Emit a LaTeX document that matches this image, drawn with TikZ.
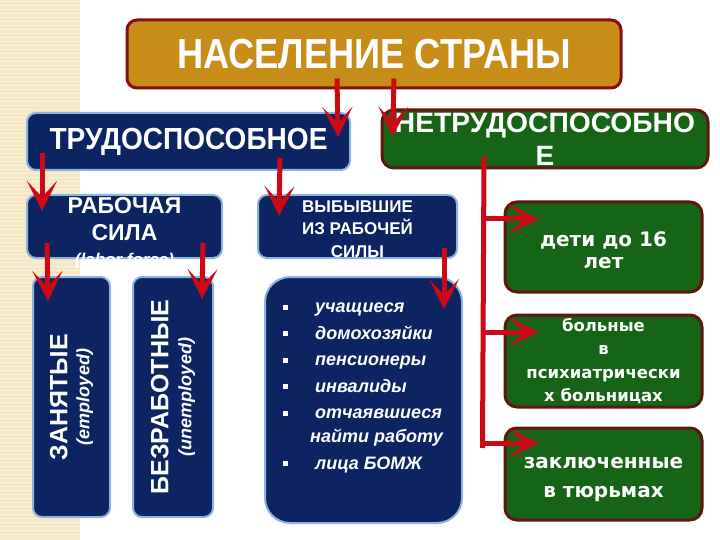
\documentclass[tikz,border=0pt]{standalone}
\usepackage{fontspec}
\setmainfont{Liberation Sans}
\newfontfamily\widesans{DejaVu Sans}
\usetikzlibrary{arrows.meta,calc}

\definecolor{navy}{RGB}{12,36,98}
\definecolor{navyedge}{RGB}{140,180,225}
\definecolor{leafgreen}{RGB}{22,100,22}
\definecolor{greenedge}{RGB}{95,22,15}
\definecolor{gold}{RGB}{200,140,25}
\definecolor{goldedge}{RGB}{135,15,15}
\definecolor{arrowred}{RGB}{205,10,20}
\definecolor{sand}{RGB}{245,230,196}

\newcommand{\fsz}[2]{\fontsize{#1}{#2}\selectfont}
\newcommand{\bul}{{\upshape\rule[3pt]{5pt}{5pt}}}

\tikzset{
  navybox/.style={draw=navyedge, line width=2pt, fill=navy, rounded corners=9pt,
    text=white, inner sep=0pt, align=center},
  greenbox/.style={draw=greenedge, line width=3pt, fill=leafgreen, rounded corners=12pt,
    text=white, inner sep=0pt, align=center},
  redarrow/.style={draw=arrowred, line width=5pt,
    -{Stealth[length=30pt,width=30pt,inset=16pt]}},
  redline/.style={draw=arrowred, line width=5pt},
}

\begin{document}
\begin{tikzpicture}[x=1pt,y=-1pt]
\useasboundingbox (0,0) rectangle (720,540);
% sand strip
\fill[sand] (0,0) rectangle (80,540);
\foreach \s in {2,6,...,538}
  \draw[white, opacity=0.45, line width=1pt] (0,\s) -- (80,\s);

% top
\node[draw=goldedge, line width=3pt, fill=gold, rounded corners=10pt, inner sep=0pt,
  minimum width=494pt, minimum height=68pt, text=white] (title) at (374,54)
  {\resizebox{394pt}{\height}{\bfseries\fsz{42}{42}НАСЕЛЕНИЕ СТРАНЫ}};

% second row
\node[navybox, minimum width=323pt, minimum height=57pt] (trud) at (188.5,141.5)
  {\resizebox{278pt}{\height}{\bfseries\fsz{30.5}{30}ТРУДОСПОСОБНОЕ}};
\node[greenbox, minimum width=326pt, minimum height=58pt, font=\bfseries\fsz{28}{33}] (netrud) at (545,139)
  {\resizebox{300pt}{\height}{НЕТРУДОСПОСОБНО}\\Е};

% labour force and the rest
\node[navybox, minimum width=195pt, minimum height=63pt, text depth=16pt,
  font=\bfseries\fsz{23}{27}] (rab) at (124.5,226.5) {РАБОЧАЯ\\СИЛА};
\node[text=white, inner sep=0pt, font=\bfseries\itshape\fsz{17}{17}] (laborlbl) at (124.5,261)
  {(labor force)};
\node[navybox, minimum width=199pt, minimum height=63pt, text height=61pt, text depth=0pt,
  font=\bfseries\fsz{17}{22.5}] (vyb) at (357.5,226.5) {ВЫБЫВШИЕ\\ИЗ РАБОЧЕЙ\\СИЛЫ};

\node[navybox, rotate=90, minimum width=240pt, minimum height=77pt, font=\bfseries\fsz{25}{26}] (zan)
  at (71.5,397) {ЗАНЯТЫЕ\\[-4pt]{\itshape\fsz{18}{22}(employed)}};
\node[navybox, rotate=90, minimum width=240pt, minimum height=80pt, font=\bfseries\fsz{25}{26}] (bez)
  at (173,397) {БЕЗРАБОТНЫЕ\\[-3pt]{\itshape\fsz{18}{22}(unemployed)}};

\node[navybox, rounded corners=25pt, minimum width=197pt, minimum height=246pt] (list) at (363.5,400) {};
\node[text=white, inner sep=0pt, anchor=base west] (items) at (283,312.5)
  {\bfseries\itshape\fsz{18}{26.5}%
   \begin{tabular}[t]{@{}p{32pt}@{}l@{}}
   \bul & учащиеся\\
   \bul & домохозяйки\\
   \bul & пенсионеры\\
   \bul & инвалиды\\
   \bul & отчаявшиеся\\[-2.5pt]
   \multicolumn{2}{@{}l@{}}{\hspace*{27pt}найти работу}\\
   \bul & лица БОМЖ
   \end{tabular}};

% not able to work
\node[greenbox, minimum width=197pt, minimum height=90pt, text height=43pt, text depth=0pt,
  font=\widesans\bfseries\fsz{20}{22}] (kids) at (603.5,247) {дети до 16\\лет};
\node[greenbox, minimum width=197pt, minimum height=92pt, text height=81pt, text depth=0pt,
  font=\widesans\bfseries\fsz{16.5}{23.5}] (ill) at (603.5,361) {больные\\в\\психиатрически\\х больницах};
\node[greenbox, minimum width=197pt, minimum height=92pt, text height=47pt, text depth=0pt,
  font=\widesans\bfseries\fsz{20}{29}] (jail) at (603.5,474) {заключенные\\в тюрьмах};

% arrows
\draw[redarrow] ($(title.south)+(-37,-11)$) -- ($(trud.north east)+(-13,25)$);
\draw[redarrow] ($(title.south)+(20,-11)$) -- ($(netrud.north west)+(12,28)$);
\draw[redarrow] ($(trud.south west)+(16,-18)$) -- ($(rab.north west)+(16,17)$);
\draw[redarrow] ($(trud.south)+(91.5,-13)$) -- ($(vyb.north west)+(22,22)$);
\draw[redarrow] ($(rab.south west)+(21,-16)$) -- ($(zan.east)+(-23.5,25)$);
\draw[redarrow] ($(rab.south east)+(-20,-16)$) -- ($(bez.east)+(29,23)$);
\draw[redarrow] ($(vyb.south east)+(-14,-11)$) -- ($(list.north east)+(-19,33)$);
\coordinate (trunkend) at ($(jail.west)+(-21,-26)$);
\draw[redline] ($(netrud.south)+(-61,-13)$) -- (trunkend);
\draw[redarrow] ($(kids.west)+(-21,-28)$) -- ($(kids.west)+(35,-28)$);
\draw[redarrow] ($(ill.west)+(-21,-29)$) -- ($(ill.west)+(35,-29)$);
\draw[redarrow] ($(jail.west)+(-21,-31)$) -- ($(jail.west)+(35,-31)$);
\end{tikzpicture}
\end{document}
